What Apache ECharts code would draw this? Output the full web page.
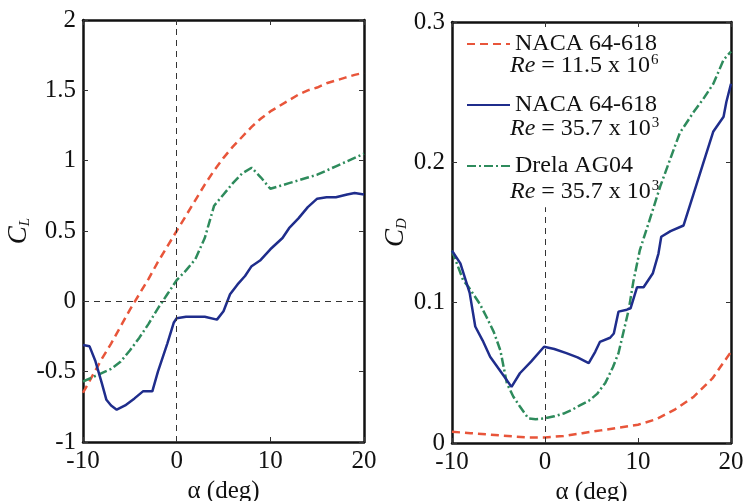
<!DOCTYPE html>
<html><head><meta charset="utf-8">
<script src="https://cdn.jsdelivr.net/npm/echarts@6/dist/echarts.min.js"></script>
<style>html,body{margin:0;padding:0;background:#fff}#c{width:747px;height:501px}</style>
</head><body><div id="c"></div>
<script>
// ---- data ----
const xTicks = [-10, 0, 10, 20];
// CL, NACA 64-618, Re = 11.5e6
const clHiAlpha = [-10,-9,-8,-7,-6,-5,-4,-3,-2,-1,0,1,2,3,4,5,6,7,8,9,10,11,12,13,14,15,16,17,18,19,20];
const clHi = [-0.65,-0.53,-0.41,-0.30,-0.18,-0.06,0.05,0.16,0.28,0.39,0.50,0.61,0.72,0.83,0.93,1.02,1.10,1.17,1.24,1.30,1.35,1.39,1.43,1.47,1.50,1.52,1.55,1.57,1.59,1.61,1.625];
// CL, NACA 64-618, Re = 35.7e3
const clLoAlpha = [-10,-9.3,-8.7,-8,-7.5,-7,-6.4,-5.5,-4.5,-3.6,-2.6,-2,-1,-0.3,0,1,2,3,4.3,5,5.7,6.5,7.3,8,8.9,10,11.3,12,13,14,15,16,17,18.2,19,20];
const clLo = [-0.31,-0.32,-0.42,-0.58,-0.70,-0.74,-0.77,-0.74,-0.69,-0.64,-0.64,-0.50,-0.30,-0.15,-0.12,-0.11,-0.11,-0.11,-0.13,-0.07,0.05,0.12,0.18,0.25,0.29,0.37,0.45,0.52,0.59,0.67,0.73,0.74,0.74,0.76,0.77,0.76];
// CL, Drela AG04
const clAgAlpha = [-10,-9,-8,-7,-6,-5,-4,-3,-2,-1,0,1,2,3,4,5,6,7,8,9,10,11,12,13,14,15,16,17,18,19,20];
const clAg = [-0.57,-0.54,-0.51,-0.48,-0.43,-0.35,-0.26,-0.16,-0.05,0.05,0.15,0.22,0.30,0.45,0.68,0.76,0.84,0.91,0.95,0.88,0.80,0.82,0.84,0.86,0.88,0.90,0.93,0.96,0.99,1.02,1.05];
// CD, NACA 64-618, Re = 11.5e6
const cdHiAlpha = [-10,-8,-6,-4,-2,0,2,4,6,8,10,12,14,16,18,20];
const cdHi = [0.008,0.007,0.006,0.005,0.004,0.004,0.005,0.007,0.009,0.011,0.013,0.017,0.024,0.033,0.046,0.065];
// CD, NACA 64-618, Re = 35.7e3
const cdLoAlpha = [-10,-9.1,-8.1,-7.5,-6.7,-5.9,-4.5,-3.6,-2.7,-1.5,-0.1,1,2.3,3.5,4.7,5.4,5.9,7.0,7.4,7.9,8.8,9.2,9.9,10.6,11.6,12.2,12.5,13.5,14.9,16,17,18.1,19.2,19.5,20];
const cdLo = [0.137,0.128,0.107,0.083,0.073,0.0615,0.0485,0.040,0.0497,0.058,0.0686,0.067,0.064,0.061,0.057,0.065,0.072,0.075,0.078,0.0936,0.095,0.096,0.111,0.111,0.121,0.135,0.147,0.151,0.155,0.178,0.199,0.222,0.2325,0.243,0.256];
// CD, Drela AG04
const cdAgAlpha = [-10,-8.8,-8.2,-7,-6.3,-5.5,-4.8,-4.1,-3.4,-2.7,-1.8,-1,0,1,2,3,3.8,4.7,5.6,6.5,7.3,7.9,8.4,9.0,9.5,10.2,11.3,12.4,13.5,14.5,16,17,18.1,19.2,20];
const cdAg = [0.137,0.116,0.111,0.099,0.090,0.079,0.066,0.0425,0.033,0.026,0.0176,0.017,0.0176,0.019,0.021,0.024,0.027,0.030,0.035,0.043,0.054,0.064,0.078,0.095,0.115,0.1375,0.16,0.183,0.203,0.221,0.236,0.245,0.256,0.273,0.279];

const legendNames = ['NACA 64-618', 'NACA 64-618', 'Drela AG04'];
const reLabels = [['11.5', '6'], ['35.7', '3'], ['35.7', '3']];
const xName = 'α (deg)';

// ---- chart ----
const FONT = '"Liberation Serif", "Times New Roman", serif';
const zip = (a, b) => a.map((v, i) => [v, b[i]]);
const RED = '#e8553a', BLUE = '#1f2d8c', GREEN = '#2e8b5c';
const keys = ['hi', 'lo', 'ag'];
const styles = {
  hi: {color: RED, type: [8, 5]},
  lo: {color: BLUE, type: 'solid'},
  ag: {color: GREEN, type: [9, 3, 2, 3]}
};
function mkSeries(key, data, gi, extra) {
  return Object.assign({
    type: 'line', name: key, xAxisIndex: gi, yAxisIndex: gi, data: data,
    showSymbol: false, symbol: 'none', smooth: false, silent: true,
    lineStyle: {color: styles[key].color, width: 2.5, type: styles[key].type},
    itemStyle: {color: styles[key].color}
  }, extra || {});
}
const axisLabelStyle = {fontFamily: FONT, fontSize: 25, color: '#111'};
const axLine = {show: true, onZero: false, lineStyle: {color: '#111', width: 2.5}};
function xAx(gi, pos, show) {
  return {
    type: 'value', gridIndex: gi, position: pos, min: -10, max: 20, interval: 10,
    axisLine: axLine, axisTick: {show: true, inside: true, length: 5, lineStyle: {color: '#333'}},
    axisLabel: Object.assign({show: show, margin: 7}, axisLabelStyle),
    splitLine: {show: false},
    name: show ? xName : '', nameLocation: 'middle', nameGap: 37,
    nameTextStyle: {fontFamily: FONT, fontSize: 25, color: '#111'}
  };
}
function yAx(gi, pos, show, min, max, interval, nm, gap) {
  return {
    type: 'value', gridIndex: gi, position: pos, min: min, max: max, interval: interval,
    axisLine: axLine, axisTick: {show: true, inside: true, length: 5, lineStyle: {color: '#333'}},
    axisLabel: Object.assign({show: show, margin: 7}, axisLabelStyle),
    splitLine: {show: false},
    name: show ? nm : '', nameLocation: 'middle', nameGap: gap, nameRotate: 90,
    nameTextStyle: {
      fontFamily: FONT, color: '#111',
      rich: {
        c: {fontFamily: FONT, fontStyle: 'italic', fontSize: 27, color: '#111'},
        s: {fontFamily: FONT, fontStyle: 'italic', fontSize: 15, color: '#111', verticalAlign: 'bottom', padding: [8, 0, 0, 0]}
      }
    }
  };
}
const mlStyle = {color: '#333', width: 1, type: [6, 5]};
const option = {
  animation: false,
  backgroundColor: '#fff',
  grid: [
    {left: 83, top: 20, width: 281, height: 422, outerBoundsMode: 'none', containLabel: false},
    {left: 452, top: 22, width: 279, height: 421, outerBoundsMode: 'none', containLabel: false}
  ],
  xAxis: [xAx(0, 'bottom', true), xAx(1, 'bottom', true), xAx(0, 'top', false), xAx(1, 'top', false)],
  yAxis: [
    yAx(0, 'left', true, -1, 2, 0.5, '{c|C}{s|L}', 44),
    yAx(1, 'left', true, 0, 0.3, 0.1, '{c|C}{s|D}', 33),
    yAx(0, 'right', false, -1, 2, 0.5, '', 0),
    yAx(1, 'right', false, 0, 0.3, 0.1, '', 0)
  ],
  legend: {
    show: true, orient: 'vertical', left: 461, top: 25, itemWidth: 43, itemHeight: 14, itemGap: 33,
    selectedMode: false,
    data: keys,
    itemStyle: {opacity: 0},
    formatter: n => legendNames[keys.indexOf(n)],
    textStyle: {fontFamily: FONT, fontSize: 24, color: '#111', lineHeight: 28}
  },
  graphic: reLabels.map((r, i) => ({
    type: 'text', left: 510, top: 53 + i * 63, z: 10,
    style: {
      text: '{i|Re} = ' + r[0] + ' x 10{s|' + r[1] + '}',
      fontFamily: FONT, fontSize: 24, fill: '#111',
      rich: {
        i: {fontFamily: FONT, fontStyle: 'italic', fontSize: 24, fill: '#111'},
        s: {fontFamily: FONT, fontSize: 15, fill: '#111', verticalAlign: 'top', padding: [0, 0, 10, 1]}
      }
    }
  })),
  series: [
    mkSeries('hi', zip(clHiAlpha, clHi), 0, {
      markLine: {silent: true, symbol: 'none', label: {show: false}, lineStyle: mlStyle,
        data: [{xAxis: 0}, {yAxis: 0}]}
    }),
    mkSeries('ag', zip(clAgAlpha, clAg), 0),
    mkSeries('lo', zip(clLoAlpha, clLo), 0),
    mkSeries('hi', zip(cdHiAlpha, cdHi), 1, {
      markLine: {silent: true, symbol: 'none', label: {show: false}, lineStyle: mlStyle,
        data: [[{coord: [0, 0]}, {coord: [0, 0.168]}]]}
    }),
    mkSeries('ag', zip(cdAgAlpha, cdAg), 1),
    mkSeries('lo', zip(cdLoAlpha, cdLo), 1)
  ]
};
const chart = echarts.init(document.getElementById('c'), null, {renderer: 'canvas'});
chart.setOption(option);
</script></body></html>
